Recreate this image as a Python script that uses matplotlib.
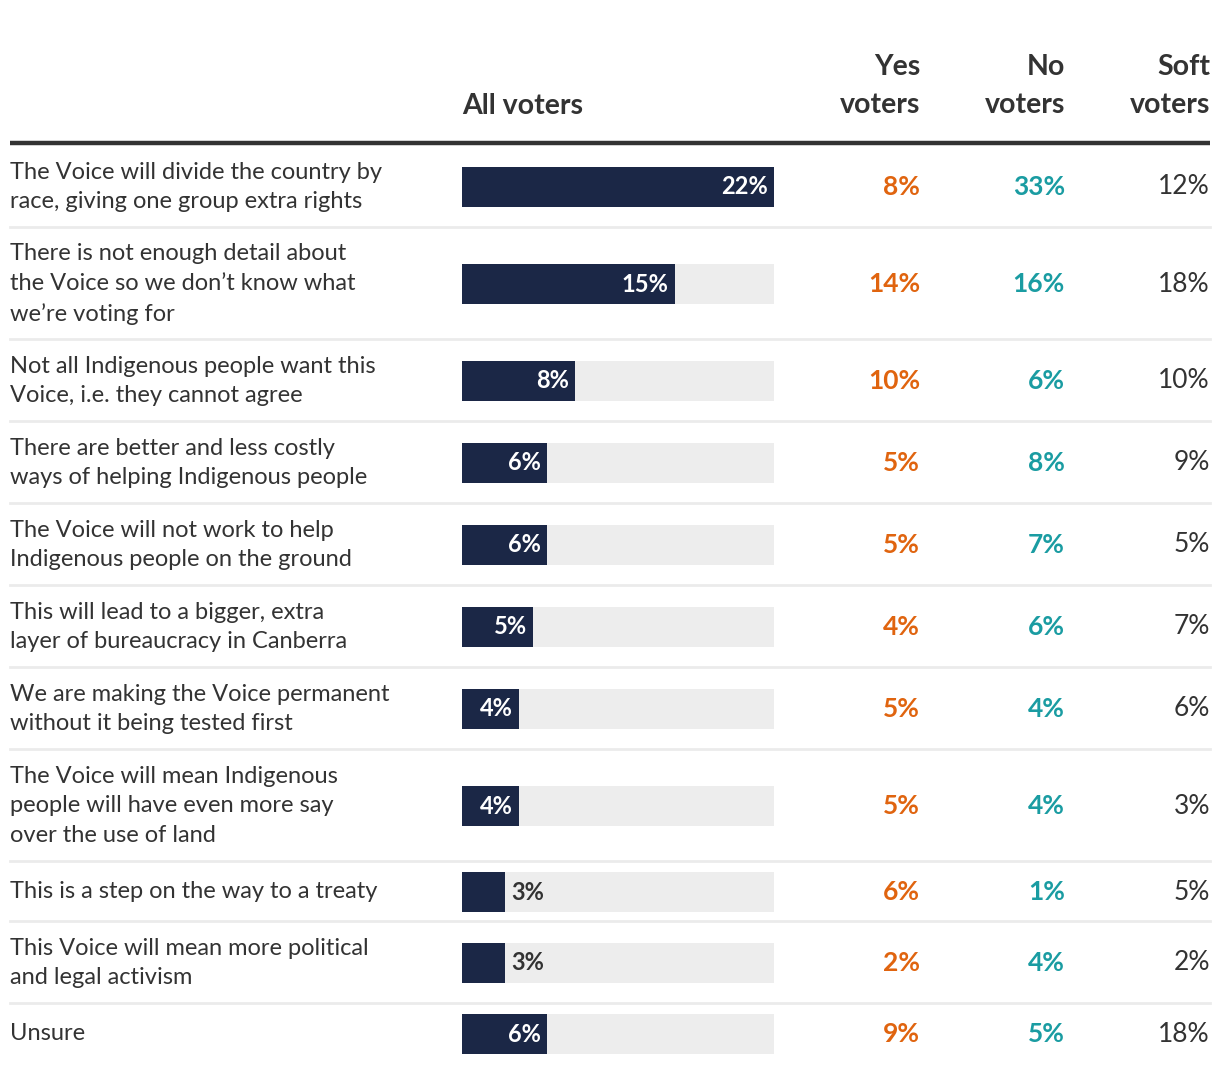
import numpy as np
import matplotlib.pyplot as plt

plt.rcParams['font.family'] = ['Lato', 'DejaVu Sans']

# data
reasons = [
    "The Voice will divide the country by\nrace, giving one group extra rights",
    "There is not enough detail about\nthe Voice so we don\u2019t know what\nwe\u2019re voting for",
    "Not all Indigenous people want this\nVoice, i.e. they cannot agree",
    "There are better and less costly\nways of helping Indigenous people",
    "The Voice will not work to help\nIndigenous people on the ground",
    "This will lead to a bigger, extra\nlayer of bureaucracy in Canberra",
    "We are making the Voice permanent\nwithout it being tested first",
    "The Voice will mean Indigenous\npeople will have even more say\nover the use of land",
    "This is a step on the way to a treaty",
    "This Voice will mean more political\nand legal activism",
    "Unsure",
]
all_voters = [22, 15, 8, 6, 6, 5, 4, 4, 3, 3, 6]
yes_voters = [8, 14, 10, 5, 5, 4, 5, 5, 6, 2, 9]
no_voters = [33, 16, 6, 8, 7, 6, 4, 4, 1, 4, 5]
soft_voters = [12, 18, 10, 9, 5, 7, 6, 3, 5, 2, 18]

W, H = 1220, 1072
NAVY = '#1b2746'
ORANGE = '#e0640f'
TEAL = '#1a9ca2'
DARK = '#333333'
TRACK = '#ededed'

fig = plt.figure(figsize=(W / 100, H / 100), dpi=100)
ax = fig.add_axes([0, 0, 1, 1])
ax.set_xlim(0, W)
ax.set_ylim(H, 0)
ax.axis('off')

# bar column axes: x 462..774 px
bx0, bx1 = 462, 774
axb = fig.add_axes([bx0 / W, 0, (bx1 - bx0) / W, 1])
axb.set_xlim(0, max(all_voters))
axb.set_ylim(H, 0)
axb.axis('off')

# headers
hdr = dict(fontsize=20.5, fontweight='bold', color=DARK, linespacing=1.6)
ax.text(462, 106, "All voters", ha='left', va='center', **hdr)
ax.text(920, 86, "Yes\nvoters", ha='right', va='center', **hdr)
ax.text(1065, 86, "No\nvoters", ha='right', va='center', **hdr)
ax.text(1210, 86, "Soft\nvoters", ha='right', va='center', **hdr)
ax.plot([10, 1210], [143, 143], color=DARK, lw=3.2, solid_capstyle='butt')

# rows
top = 145
centers = []
for i, r in enumerate(reasons):
    n = r.count('\n') + 1
    h = max(60, 22 + 30 * n)
    c = top + h / 2 + 1
    centers.append(c)
    top += h
    if i < len(reasons) - 1:
        ax.plot([10, 1210], [top, top], color='#ebebeb', lw=2)
centers = np.array(centers)

axb.barh(centers, [max(all_voters)] * len(centers), height=40, color=TRACK, left=0)
axb.barh(centers, all_voters, height=40, color=NAVY)

for i, r in enumerate(reasons):
    c = centers[i]
    ax.text(10, c, r, ha='left', va='center', fontsize=17, color=DARK, linespacing=1.5)
    v = all_voters[i]
    if v >= 4:
        axb.annotate(f"{v}%", (v, c), xytext=(-6, 0), textcoords='offset pixels',
                     ha='right', va='center', fontsize=17, fontweight='bold', color='white')
    else:
        axb.annotate(f"{v}%", (v, c), xytext=(7, 0), textcoords='offset pixels',
                     ha='left', va='center', fontsize=17, fontweight='bold', color=DARK)
    ax.text(920, c, f"{yes_voters[i]}%", ha='right', va='center', fontsize=19,
            fontweight='bold', color=ORANGE)
    ax.text(1065, c, f"{no_voters[i]}%", ha='right', va='center', fontsize=19,
            fontweight='bold', color=TEAL)
    ax.text(1210, c, f"{soft_voters[i]}%", ha='right', va='center', fontsize=19,
            color=DARK)

fig.savefig('out.png', dpi=100, facecolor='white')
